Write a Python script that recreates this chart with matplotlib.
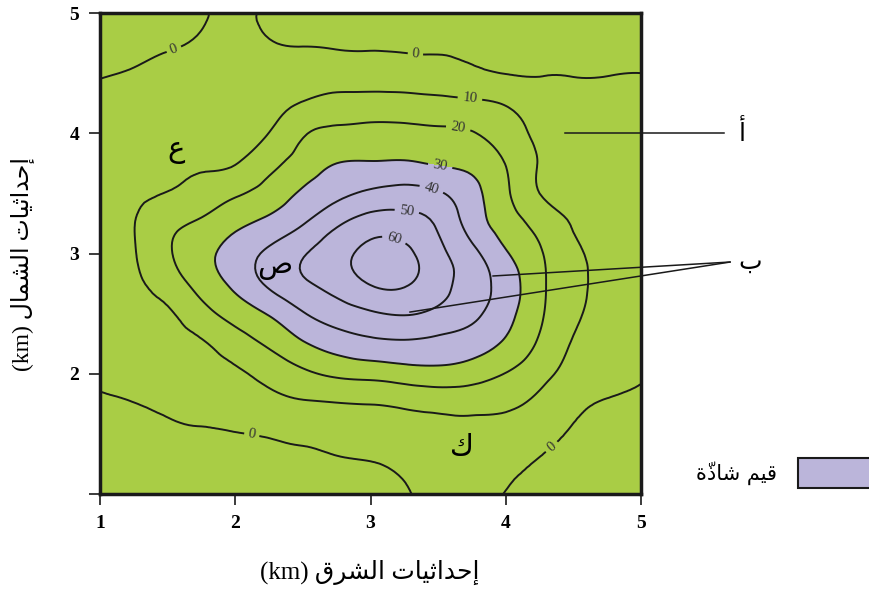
import numpy as np
import matplotlib
matplotlib.use("Agg")
import matplotlib.pyplot as plt
import matplotlib.tri as mtri
from matplotlib.patches import Rectangle

# grid of the map (km)
east_km = [1.0, 1.25, 1.5, 1.75, 2.0, 2.25, 2.5, 2.75, 3.0,
           3.25, 3.5, 3.75, 4.0, 4.25, 4.5, 4.75, 5.0]
north_km = [5.0, 4.75, 4.5, 4.25, 4.0, 3.75, 3.5, 3.25, 3.0,
            2.75, 2.5, 2.25, 2.0, 1.75, 1.5, 1.25, 1.0]

# values, one row per north_km (top row first)
anomaly = [
    [-2.6, -2.2, -1.5, -0.5, 1.0, -0.8, -1.5, -1.8, -1.9, -2.0, -2.0, -2.2, -2.5, -2.8, -2.7, -2.6, -2.3],
    [-1.4, -1.0, -0.4, 0.7, 2.2, 0.4, -0.4, -0.6, -0.7, -0.8, -0.8, -1.0, -1.4, -1.6, -1.5, -1.4, -1.2],
    [-0.3, 0.3, 1.2, 2.6, 4.2, 4.3, 4.3, 4.3, 4.2, 3.8, 3.2, 1.5, -0.2, -0.4, -0.3, -0.2, 0.0],
    [1.6, 2.5, 3.4, 4.5, 6.2, 7.6, 10.5, 13.5, 14.0, 13.8, 12.8, 11.7, 9.2, 4.5, 2.8, 2.2, 2.0],
    [3.6, 4.7, 5.7, 6.6, 8.0, 10.1, 18.9, 22.2, 22.8, 22.6, 21.6, 20.5, 15.0, 8.1, 5.3, 4.1, 3.5],
    [5.5, 6.7, 7.9, 8.8, 9.7, 16.7, 24.6, 30.0, 30.7, 31.1, 29.1, 27.1, 19.7, 9.5, 6.9, 5.4, 4.8],
    [7.1, 8.6, 10.3, 13.9, 18.6, 24.3, 31.5, 37.4, 41.8, 43.6, 41.1, 33.2, 21.8, 10.0, 8.0, 6.8, 5.9],
    [8.0, 9.8, 16.9, 21.6, 27.6, 32.7, 39.5, 48.4, 54.7, 54.4, 48.6, 35.8, 25.2, 16.4, 9.5, 7.9, 6.9],
    [7.7, 9.5, 18.7, 26.6, 34.4, 41.9, 49.1, 56.5, 62.8, 62.3, 52.8, 42.7, 31.0, 21.1, 11.7, 8.3, 6.7],
    [6.6, 8.5, 14.6, 23.7, 32.4, 41.6, 48.6, 54.0, 60.5, 61.0, 53.9, 45.1, 35.4, 22.4, 12.5, 8.0, 6.1],
    [5.2, 6.9, 8.9, 16.3, 24.0, 30.8, 39.3, 45.0, 48.8, 50.7, 47.6, 42.3, 33.5, 21.6, 11.7, 7.3, 5.1],
    [3.3, 4.8, 6.8, 9.1, 15.1, 21.5, 29.0, 34.4, 37.5, 38.5, 37.3, 34.7, 28.5, 18.6, 9.3, 5.7, 3.4],
    [1.1, 2.5, 4.2, 6.0, 8.5, 13.0, 18.1, 21.8, 23.3, 25.3, 26.5, 24.6, 19.7, 13.3, 6.3, 2.6, 0.7],
    [-0.6, -0.1, 1.0, 2.4, 4.2, 6.7, 8.8, 9.6, 10.2, 11.5, 12.8, 13.0, 11.8, 7.4, 1.7, -0.4, -0.9],
    [-1.7, -1.2, -0.8, -0.5, -0.2, 0.5, 1.5, 2.7, 4.1, 5.8, 7.0, 7.3, 5.9, 2.3, -0.5, -1.5, -2.0],
    [-2.9, -2.3, -2.0, -1.6, -1.3, -1.1, -1.0, -0.7, -0.3, 1.5, 3.9, 4.4, 1.8, -0.4, -1.4, -2.3, -3.0],
    [-3.0, -3.0, -3.0, -2.8, -2.5, -2.3, -2.1, -1.9, -1.3, -0.4, 1.8, 2.5, -0.2, -1.3, -2.2, -3.0, -3.0],
]
contour_levels = [0, 10, 20, 30, 40, 50, 60]
anomaly_threshold = 30

# arabic letters -> (isolated, final, initial, medial) presentation forms
FORMS = {
    'ا': ('\ufe8d', '\ufe8e', None, None),
    'أ': ('\ufe83', '\ufe84', None, None),
    'إ': ('\ufe87', '\ufe88', None, None),
    'د': ('\ufea9', '\ufeaa', None, None),
    'ذ': ('\ufeab', '\ufeac', None, None),
    'ر': ('\ufead', '\ufeae', None, None),
    'ة': ('\ufe93', '\ufe94', None, None),
    'ب': ('\ufe8f', '\ufe90', '\ufe91', '\ufe92'),
    'ت': ('\ufe95', '\ufe96', '\ufe97', '\ufe98'),
    'ث': ('\ufe99', '\ufe9a', '\ufe9b', '\ufe9c'),
    'ح': ('\ufea1', '\ufea2', '\ufea3', '\ufea4'),
    'ش': ('\ufeb5', '\ufeb6', '\ufeb7', '\ufeb8'),
    'ص': ('\ufeb9', '\ufeba', '\ufebb', '\ufebc'),
    'ع': ('\ufec9', '\ufeca', '\ufecb', '\ufecc'),
    'ق': ('\ufed5', '\ufed6', '\ufed7', '\ufed8'),
    'ك': ('\ufed9', '\ufeda', '\ufedb', '\ufedc'),
    'ل': ('\ufedd', '\ufede', '\ufedf', '\ufee0'),
    'م': ('\ufee1', '\ufee2', '\ufee3', '\ufee4'),
    'ي': ('\ufef1', '\ufef2', '\ufef3', '\ufef4'),
}
MARKS = {'\u0651'}


def ar(text):
    # matplotlib has no arabic shaping: pick joined forms and reverse
    chars = list(text)
    out = []
    for i, c in enumerate(chars):
        if c not in FORMS:
            out.append(c)
            continue
        j = i - 1
        while j >= 0 and chars[j] in MARKS:
            j -= 1
        k = i + 1
        while k < len(chars) and chars[k] in MARKS:
            k += 1
        prev_join = j >= 0 and chars[j] in FORMS and FORMS[chars[j]][2] is not None
        next_join = (k < len(chars) and chars[k] in FORMS
                     and FORMS[c][2] is not None)
        iso, fin, ini, med = FORMS[c]
        if prev_join and next_join:
            out.append(med)
        elif prev_join:
            out.append(fin)
        elif next_join:
            out.append(ini)
        else:
            out.append(iso)
    return ''.join(out[::-1])


GREEN = '#a9cd45'
PURPLE = '#bbb5da'
INK = '#1a1a1a'
MIXED = ['Liberation Serif', 'DejaVu Sans']

fig = plt.figure(figsize=(8.69, 5.9), dpi=100)
ax = fig.add_axes([100 / 869, 96 / 590, 541 / 869, 481 / 590])
ax.set_facecolor(GREEN)

E, N = np.meshgrid(east_km, north_km)
z = np.array(anomaly)
tri = mtri.Triangulation(E.ravel(), N.ravel())
tri_f, z_f = mtri.UniformTriRefiner(tri).refine_field(z.ravel(), subdiv=3)
ax.tricontourf(tri_f, z_f, levels=[anomaly_threshold, z.max() + 10], colors=[PURPLE])
cs = ax.tricontour(tri_f, z_f, levels=contour_levels, colors=INK, linewidths=1.4)
label_pos = [(1.555, 4.676), (3.329, 4.626), (2.124, 1.507), (4.312, 1.424),
             (3.736, 4.301), (3.647, 4.027), (3.514, 3.719), (3.455, 3.553),
             (3.270, 3.362), (3.181, 3.146)]
lbls = ax.clabel(cs, manual=label_pos, inline=True, fmt='%d', fontsize=10.5,
                 inline_spacing=3, colors='#333333')
for t in lbls:
    t.set_family('Liberation Serif')

ax.set_xlim(1, 5)
ax.set_ylim(1, 5)
ax.set_xticks([1, 2, 3, 4, 5])
ax.set_yticks([1, 2, 3, 4, 5])
ax.set_yticklabels(['', '2', '3', '4', '5'])
ax.tick_params(direction='out', length=8, width=1.2, pad=7, color=INK)
for t in ax.get_xticklabels() + ax.get_yticklabels():
    t.set_family('Liberation Serif')
    t.set_fontweight('bold')
    t.set_fontsize(14)
for s in ax.spines.values():
    s.set_linewidth(2.5)
    s.set_color(INK)

# letters on the map
ax.text(1.562, 3.861, ar('ع'), fontsize=21, ha='center', va='center')
ax.text(2.294, 2.896, ar('ص'), fontsize=21, ha='center', va='center')
ax.text(3.677, 1.391, ar('ك'), fontsize=21, ha='center', va='center')

# pointers
ax.plot([4.438, 5.614], [4.002, 4.002], color=INK, lw=1.1, clip_on=False)
ax.plot([3.906, 5.658], [2.813, 2.929], color=INK, lw=1.1, clip_on=False)
ax.plot([3.292, 5.658], [2.513, 2.929], color=INK, lw=1.1, clip_on=False)
ax.text(5.747, 4.002, ar('أ'), fontsize=18, ha='center', va='center')
ax.text(5.806, 2.929, ar('ب'), fontsize=18, ha='center', va='center')

# legend
fig.patches.append(Rectangle((798 / 869, 102 / 590), 80 / 869, 30 / 590,
                             transform=fig.transFigure, facecolor=PURPLE,
                             edgecolor=INK, lw=1.5))
fig.text(737 / 869, 117 / 590, ar('قيم شاذّة'), fontsize=15,
         ha='center', va='center')

fig.text(370 / 869, 18 / 590, '(km) ' + ar('إحداثيات الشرق'), fontsize=18,
         ha='center', va='center', family=MIXED)
fig.text(22 / 869, 326 / 590, '(km) ' + ar('إحداثيات الشمال'), fontsize=17,
         ha='center', va='center', rotation=90, family=MIXED)

plt.savefig('out.png')
